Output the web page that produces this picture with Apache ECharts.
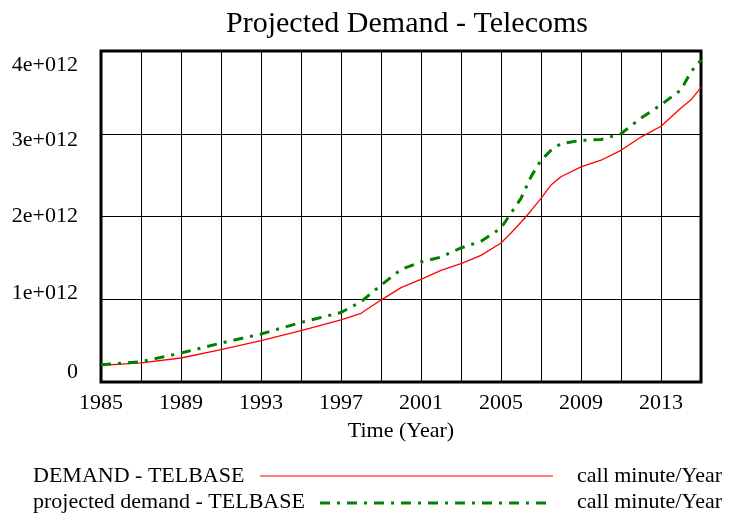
<!DOCTYPE html>
<html>
<head>
<meta charset="utf-8">
<script src="https://cdn.jsdelivr.net/npm/echarts@6/dist/echarts.min.js"></script>
<style>
    html, body { margin: 0; padding: 0; background: #fff; }
    #chart { width: 729px; height: 515px; }
</style>
</head>
<body>
<div id="chart"></div>
<script>
// 数据 (单位: 1e12 call minute/Year)
var years = [1985, 1987, 1989, 1991, 1993, 1995, 1997, 1998, 1999, 2000, 2001, 2002, 2003, 2004,
    2005, 2005.5, 2006, 2006.5, 2007, 2007.5, 2008, 2009, 2010, 2011, 2012, 2013, 2014, 2014.5, 2015];
var demand = [0.20, 0.23, 0.29, 0.39, 0.50, 0.62, 0.75, 0.83, 0.99, 1.14, 1.24, 1.35, 1.43, 1.53,
    1.68, 1.80, 1.93, 2.07, 2.22, 2.38, 2.48, 2.60, 2.68, 2.80, 2.96, 3.09, 3.31, 3.41, 3.56];
var projected = [0.21, 0.245, 0.35, 0.47, 0.58, 0.72, 0.84, 0.97, 1.17, 1.36, 1.45, 1.51, 1.62, 1.70,
    1.86, 2.04, 2.22, 2.48, 2.68, 2.80, 2.88, 2.92, 2.93, 3.00, 3.19, 3.35, 3.53, 3.75, 3.89];
var yTicks = ['0', '1e+012', '2e+012', '3e+012', '4e+012'];
// y轴标签的上下偏移 (原图标签并不正对网格线)
var yShift = [-10, -6, 0, 6, 14];

var font = 'Liberation Serif';

function pairs(vals) {
    return years.map(function (y, i) { return [y, vals[i] * 1e12]; });
}

var rich = {};
yShift.forEach(function (d, i) {
    rich['s' + i] = {
        fontFamily: font, fontSize: 22, color: '#000',
        padding: d >= 0 ? [2 * d, 0, 0, 0] : [0, 0, -2 * d, 0]
    };
});

var chart = echarts.init(document.getElementById('chart'));
var option = {
    animation: false,
    backgroundColor: '#fff',
    title: {
        text: 'Projected Demand - Telecoms',
        left: 402,
        textAlign: 'center',
        top: 4,
        textStyle: { fontFamily: font, fontWeight: 'normal', fontSize: 30, color: '#000' }
    },
    grid: {
        left: 101, right: 28, top: 51, bottom: 133,
        show: true, borderColor: '#000', borderWidth: 3
    },
    xAxis: {
        type: 'value',
        min: 1985, max: 2015, interval: 2,
        name: 'Time (Year)',
        nameLocation: 'middle',
        nameGap: 38,
        nameTextStyle: { fontFamily: font, fontSize: 22, color: '#000' },
        axisLine: { show: false },
        axisTick: { show: false },
        splitLine: { show: true, lineStyle: { color: '#000', width: 1 } },
        axisLabel: {
            margin: 10,
            fontFamily: font, fontSize: 22, color: '#000',
            formatter: function (v) { return (v - 1985) % 4 === 0 && v < 2015 ? String(v) : ''; }
        }
    },
    yAxis: {
        type: 'value',
        min: 0, max: 4e12, interval: 1e12,
        axisLine: { show: false },
        axisTick: { show: false },
        splitLine: { show: true, lineStyle: { color: '#000', width: 1 } },
        axisLabel: {
            margin: 23,
            formatter: function (v) {
                var i = Math.round(v / 1e12);
                return '{s' + i + '|' + yTicks[i] + '}';
            },
            rich: rich
        }
    },
    series: [
        {
            name: 'DEMAND - TELBASE',
            type: 'line',
            data: pairs(demand),
            showSymbol: false,
            lineStyle: { color: '#ff0000', width: 1.3 }
        },
        {
            name: 'projected demand - TELBASE',
            type: 'line',
            data: pairs(projected),
            showSymbol: false,
            lineStyle: { color: '#008000', width: 3, type: [10, 7, 3, 7] }
        }
    ],
    graphic: [
        { type: 'text', left: 33, top: 465, style: { text: 'DEMAND - TELBASE', font: '22px ' + font, fill: '#000' } },
        { type: 'line', shape: { x1: 260, y1: 476, x2: 553, y2: 476 }, style: { stroke: '#ff0000', lineWidth: 1.2 } },
        { type: 'text', left: 577, top: 465, style: { text: 'call minute/Year', font: '22px ' + font, fill: '#000' } },
        { type: 'text', left: 33, top: 491, style: { text: 'projected demand - TELBASE', font: '22px ' + font, fill: '#000' } },
        { type: 'line', shape: { x1: 320, y1: 503, x2: 550, y2: 503 }, style: { stroke: '#008000', lineWidth: 3, lineDash: [10, 7, 3, 7] } },
        { type: 'text', left: 577, top: 491, style: { text: 'call minute/Year', font: '22px ' + font, fill: '#000' } }
    ]
};
chart.setOption(option);
</script>
</body>
</html>
